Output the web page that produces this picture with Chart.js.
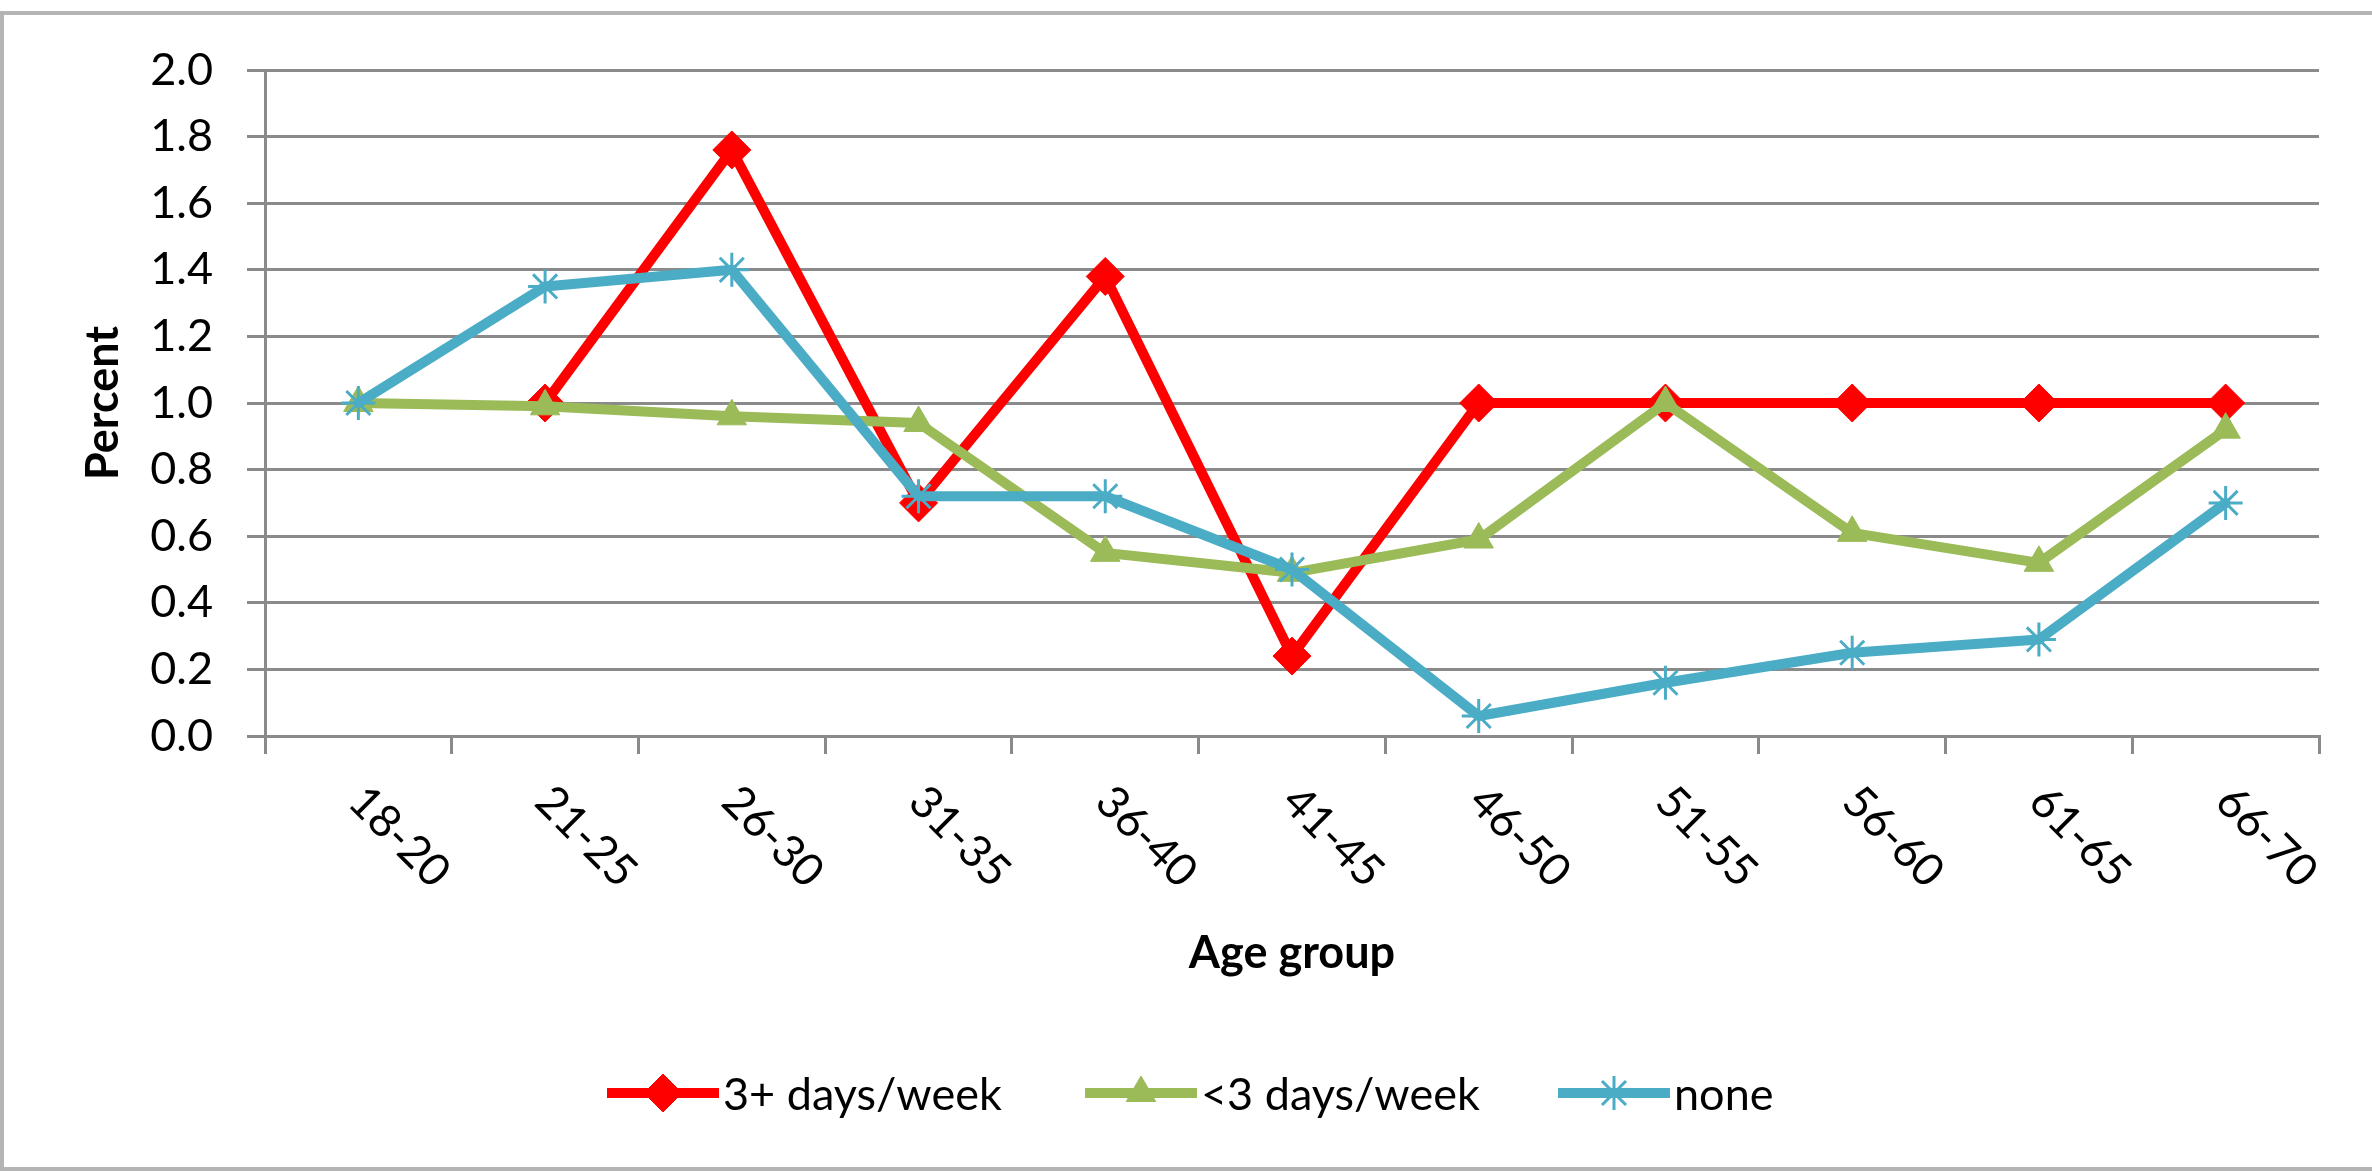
<!DOCTYPE html>
<html>
<head>
<meta charset="utf-8">
<title>Percent by age group</title>
<script src="https://cdn.jsdelivr.net/npm/chart.js@4.4.1/dist/chart.umd.min.js"></script>
<style>
  html, body { margin: 0; padding: 0; background: #ffffff; }
  canvas { display: block; }
</style>
</head>
<body>
<canvas id="chart" width="2372" height="1171"></canvas>
<script>
// Age bands on the category axis
const ageGroups = ['18-20', '21-25', '26-30', '31-35', '36-40', '41-45', '46-50', '51-55', '56-60', '61-65', '66-70'];

// Percent per age band for each activity level
const threePlusDays = [null, 1.00, 1.76, 0.70, 1.38, 0.24, 1.00, 1.00, 1.00, 1.00, 1.00];
const underThreeDays = [1.00, 0.99, 0.96, 0.94, 0.55, 0.49, 0.59, 1.00, 0.61, 0.52, 0.92];
const noActivity = [1.00, 1.35, 1.40, 0.72, 0.72, 0.50, 0.06, 0.16, 0.25, 0.29, 0.70];

const seriesNames = ['3+ days/week', '<3 days/week', 'none'];

const FONT = 'Lato, "Open Sans", sans-serif';
const GRID = '#8a8a8a';

// White background with the light grey frame round the chart
const framePlugin = {
  id: 'frame',
  beforeDraw(chart) {
    const ctx = chart.ctx;
    ctx.save();
    ctx.fillStyle = '#ffffff';
    ctx.fillRect(0, 0, chart.width, chart.height);
    ctx.strokeStyle = '#b4b4b4';
    ctx.lineWidth = 4;
    ctx.strokeRect(2, 13, chart.width + 20, chart.height - 15);
    ctx.restore();
  }
};

// Category labels, slanted downward to the right beneath each band
const slantedLabels = {
  id: 'slantedLabels',
  afterDraw(chart) {
    const sx = chart.scales.x;
    const ctx = chart.ctx;
    ctx.save();
    ctx.font = '45px ' + FONT;
    ctx.fillStyle = '#000000';
    ctx.textAlign = 'left';
    ctx.textBaseline = 'middle';
    chart.data.labels.forEach((label, i) => {
      const x = sx.getPixelForValue(i);
      ctx.save();
      ctx.translate(x - 2, sx.top + 58);
      ctx.rotate(Math.PI / 4);
      ctx.fillText(label, 0, 0);
      ctx.restore();
    });
    ctx.restore();
  }
};

// Legend: a short line with the series marker, followed by the series name
const legendStarts = [607, 1085, 1558];
const lineLegend = {
  id: 'lineLegend',
  afterDraw(chart) {
    const ctx = chart.ctx;
    const y = 1093;
    ctx.save();
    ctx.font = '45px ' + FONT;
    ctx.textBaseline = 'middle';
    ctx.textAlign = 'left';
    chart.data.datasets.forEach((ds, i) => {
      const x = legendStarts[i];
      ctx.strokeStyle = ds.borderColor;
      ctx.lineWidth = ds.borderWidth;
      ctx.lineCap = 'butt';
      ctx.beginPath();
      ctx.moveTo(x, y);
      ctx.lineTo(x + 112, y);
      ctx.stroke();
      ctx.fillStyle = ds.pointBackgroundColor;
      ctx.strokeStyle = ds.pointBorderColor;
      ctx.lineWidth = ds.pointBorderWidth;
      Chart.helpers.drawPoint(ctx, {
        pointStyle: ds.pointStyle,
        radius: ds.pointRadius,
        rotation: 0,
        borderWidth: ds.pointBorderWidth
      }, x + 56, y);
      ctx.fillStyle = '#000000';
      ctx.fillText(ds.label, x + 116, y + 2);
    });
    ctx.restore();
  }
};

new Chart(document.getElementById('chart'), {
  type: 'line',
  data: {
    labels: ageGroups,
    datasets: [
      {
        label: seriesNames[0],
        data: threePlusDays,
        borderColor: '#ff0000',
        backgroundColor: '#ff0000',
        borderWidth: 10,
        pointStyle: 'rectRot',
        pointRadius: 19,
        pointBackgroundColor: '#ff0000',
        pointBorderColor: '#ff0000',
        pointBorderWidth: 1,
        order: 3
      },
      {
        label: seriesNames[1],
        data: underThreeDays,
        borderColor: '#9bbb59',
        backgroundColor: '#9bbb59',
        borderWidth: 10,
        pointStyle: 'triangle',
        pointRadius: 17,
        pointBackgroundColor: '#9bbb59',
        pointBorderColor: '#9bbb59',
        pointBorderWidth: 1,
        order: 2
      },
      {
        label: seriesNames[2],
        data: noActivity,
        borderColor: '#4bacc6',
        backgroundColor: '#4bacc6',
        borderWidth: 10,
        pointStyle: 'star',
        pointRadius: 17,
        pointBackgroundColor: '#4bacc6',
        pointBorderColor: '#4bacc6',
        pointBorderWidth: 3,
        order: 1
      }
    ]
  },
  options: {
    responsive: false,
    animation: false,
    events: [],
    devicePixelRatio: 1,
    layout: { padding: { left: 0, top: 70, right: 53, bottom: 191 } },
    elements: {
      line: { tension: 0, borderJoinStyle: 'round', borderCapStyle: 'round' }
    },
    plugins: {
      legend: { display: false },
      tooltip: { enabled: false }
    },
    scales: {
      x: {
        type: 'category',
        offset: true,
        grid: {
          offset: true,
          drawOnChartArea: false,
          drawTicks: true,
          tickLength: 18,
          color: GRID,
          lineWidth: 3
        },
        border: { display: true, color: GRID, width: 3 },
        ticks: { display: false },
        title: {
          display: true,
          text: 'Age group',
          color: '#000000',
          font: { family: FONT, size: 45, weight: 'bold' },
          padding: { top: 0, bottom: 0 }
        },
        afterFit(scale) { scale.height = 244; }
      },
      y: {
        min: 0,
        max: 2,
        ticks: {
          stepSize: 0.2,
          color: '#000000',
          font: { family: FONT, size: 45 },
          padding: 34,
          callback: v => Number(v).toFixed(1)
        },
        grid: {
          color: GRID,
          lineWidth: 3,
          drawTicks: true,
          tickLength: 18
        },
        border: { display: true, color: GRID, width: 3 },
        title: {
          display: true,
          text: 'Percent',
          color: '#000000',
          font: { family: FONT, size: 45, weight: 'bold' },
          padding: { top: 76, bottom: 0 }
        },
        afterFit(scale) { scale.width = 265; }
      }
    }
  },
  plugins: [framePlugin, slantedLabels, lineLegend]
});
</script>
</body>
</html>
